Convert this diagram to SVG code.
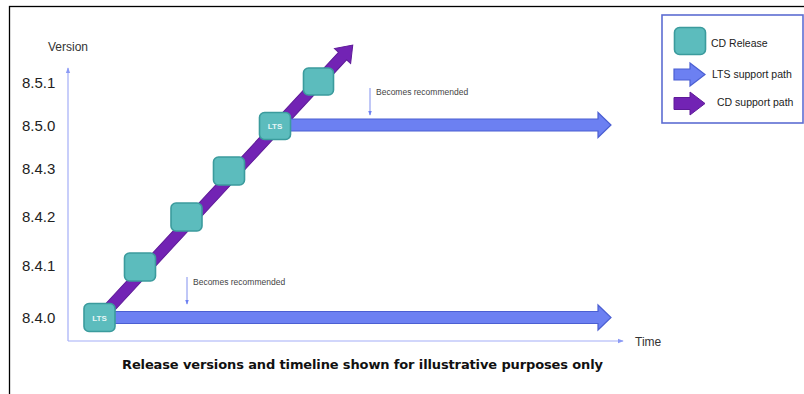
<svg xmlns="http://www.w3.org/2000/svg" width="804" height="394" viewBox="0 0 804 394">
  <defs>
    <style>
      .frame { fill: #ffffff; stroke: #000000; stroke-width: 1.3; }
      .axis { stroke: #a3aef7; stroke-width: 1.2; fill: none; }
      .axhead { fill: #8b9af5; }
      .ver { font-family: "Liberation Sans", Arial, sans-serif; font-size: 15px; fill: #222222; }
      .axlabel { font-family: "Liberation Sans", Arial, sans-serif; font-size: 12px; fill: #333333; }
      .rel { fill: #5cbcbd; stroke: #3b9b9d; stroke-width: 1.6; }
      .lts { font-family: "Liberation Sans", Arial, sans-serif; font-size: 8px; font-weight: bold; fill: #e8f6f6; }
      .blue { fill: #6c80f2; stroke: #4b5fd2; stroke-width: 1.2; }
      .purple { fill: #7223b4; stroke: #5e1a98; stroke-width: 1; }
      .note { font-family: "Liberation Sans", Arial, sans-serif; font-size: 8.5px; fill: #444444; }
      .noteline { stroke: #8190ee; stroke-width: 1; fill: none; }
      .legtext { font-family: "Liberation Sans", Arial, sans-serif; font-size: 10.5px; fill: #222222; }
      .title { font-family: "DejaVu Sans", "Open Sans", sans-serif; font-size: 13px; font-weight: bold; fill: #111111; }
    </style>
    <marker id="axarrow" viewBox="0 0 8 8" refX="7" refY="4" markerWidth="6" markerHeight="6" orient="auto" markerUnits="userSpaceOnUse">
      <path d="M0,1 L8,4 L0,7 Z" class="axhead"/>
    </marker>
    <marker id="notearrow" viewBox="0 0 8 8" refX="7" refY="4" markerWidth="5" markerHeight="5" orient="auto" markerUnits="userSpaceOnUse">
      <path d="M0,1 L8,4 L0,7 Z" fill="#6c80f2"/>
    </marker>
  </defs>

  <rect x="0" y="0" width="804" height="394" fill="#ffffff"/>
  <rect class="frame" x="9.5" y="6.5" width="800" height="400"/>

  <!-- axes -->
  <g id="axes">
    <line class="axis" x1="68" y1="341" x2="68" y2="68" marker-end="url(#axarrow)"/>
    <line class="axis" x1="68" y1="341" x2="623" y2="341" marker-end="url(#axarrow)"/>
    <text class="axlabel" x="48" y="51">Version</text>
    <text class="axlabel" x="635" y="346">Time</text>
  </g>

  <!-- version labels -->
  <g id="version-labels">
    <text class="ver" x="22" y="88">8.5.1</text>
    <text class="ver" x="22" y="131">8.5.0</text>
    <text class="ver" x="22" y="174">8.4.3</text>
    <text class="ver" x="22" y="222">8.4.2</text>
    <text class="ver" x="22" y="271">8.4.1</text>
    <text class="ver" x="22" y="323">8.4.0</text>
  </g>

  <!-- connectors -->
  <g id="connectors">
    <g id="cd-support-path" transform="translate(100,318) rotate(-47.2)">
      <polygon class="purple" points="0,-5.5 357,-5.5 357,-11 372,0 357,11 357,5.5 0,5.5"/>
    </g>
    <g id="lts-path-850">
      <polygon class="blue" points="288,119 598,119 598,112.5 611,125 598,137.5 598,131 288,131"/>
    </g>
    <g id="lts-path-840">
      <polygon class="blue" points="112,311.5 598,311.5 598,305 611,317.5 598,330 598,323.5 112,323.5"/>
    </g>
    <g id="note-850">
      <line class="noteline" x1="370" y1="88" x2="370" y2="115" marker-end="url(#notearrow)"/>
      <text class="note" x="376" y="95">Becomes recommended</text>
    </g>
    <g id="note-840">
      <line class="noteline" x1="187" y1="277" x2="187" y2="304" marker-end="url(#notearrow)"/>
      <text class="note" x="193" y="285">Becomes recommended</text>
    </g>
  </g>

  <!-- release nodes -->
  <g id="rel-840">
    <rect class="rel" x="84" y="303.5" width="31" height="28" rx="5"/>
    <text class="lts" x="99.5" y="320.5" text-anchor="middle">LTS</text>
  </g>
  <g id="rel-841">
    <rect class="rel" x="124.5" y="253" width="31" height="28" rx="5"/>
  </g>
  <g id="rel-842">
    <rect class="rel" x="171" y="203" width="31" height="28" rx="5"/>
  </g>
  <g id="rel-843">
    <rect class="rel" x="213.5" y="157" width="31" height="28" rx="5"/>
  </g>
  <g id="rel-850">
    <rect class="rel" x="259.5" y="112.5" width="31" height="27" rx="5"/>
    <text class="lts" x="275" y="129" text-anchor="middle">LTS</text>
  </g>
  <g id="rel-851">
    <rect class="rel" x="303.5" y="68" width="30" height="27" rx="5"/>
  </g>

  <!-- legend -->
  <g id="legend">
    <rect x="662" y="15" width="141" height="108" fill="#ffffff" stroke="#5d6dd2" stroke-width="1.6"/>
    <rect class="rel" x="674.5" y="27.5" width="31" height="27" rx="5"/>
    <text class="legtext" x="711" y="47">CD Release</text>
    <polygon class="blue" points="674,69 690,69 690,63 705,74.5 690,86 690,80 674,80"/>
    <text class="legtext" x="712" y="78">LTS support path</text>
    <polygon class="purple" points="674,97.5 690,97.5 690,92 705,103.5 690,115 690,109.5 674,109.5"/>
    <text class="legtext" x="717" y="106">CD support path</text>
  </g>

  <g id="caption">
    <text class="title" x="122" y="369" textLength="481">Release versions and timeline shown for illustrative purposes only</text>
  </g>
</svg>
